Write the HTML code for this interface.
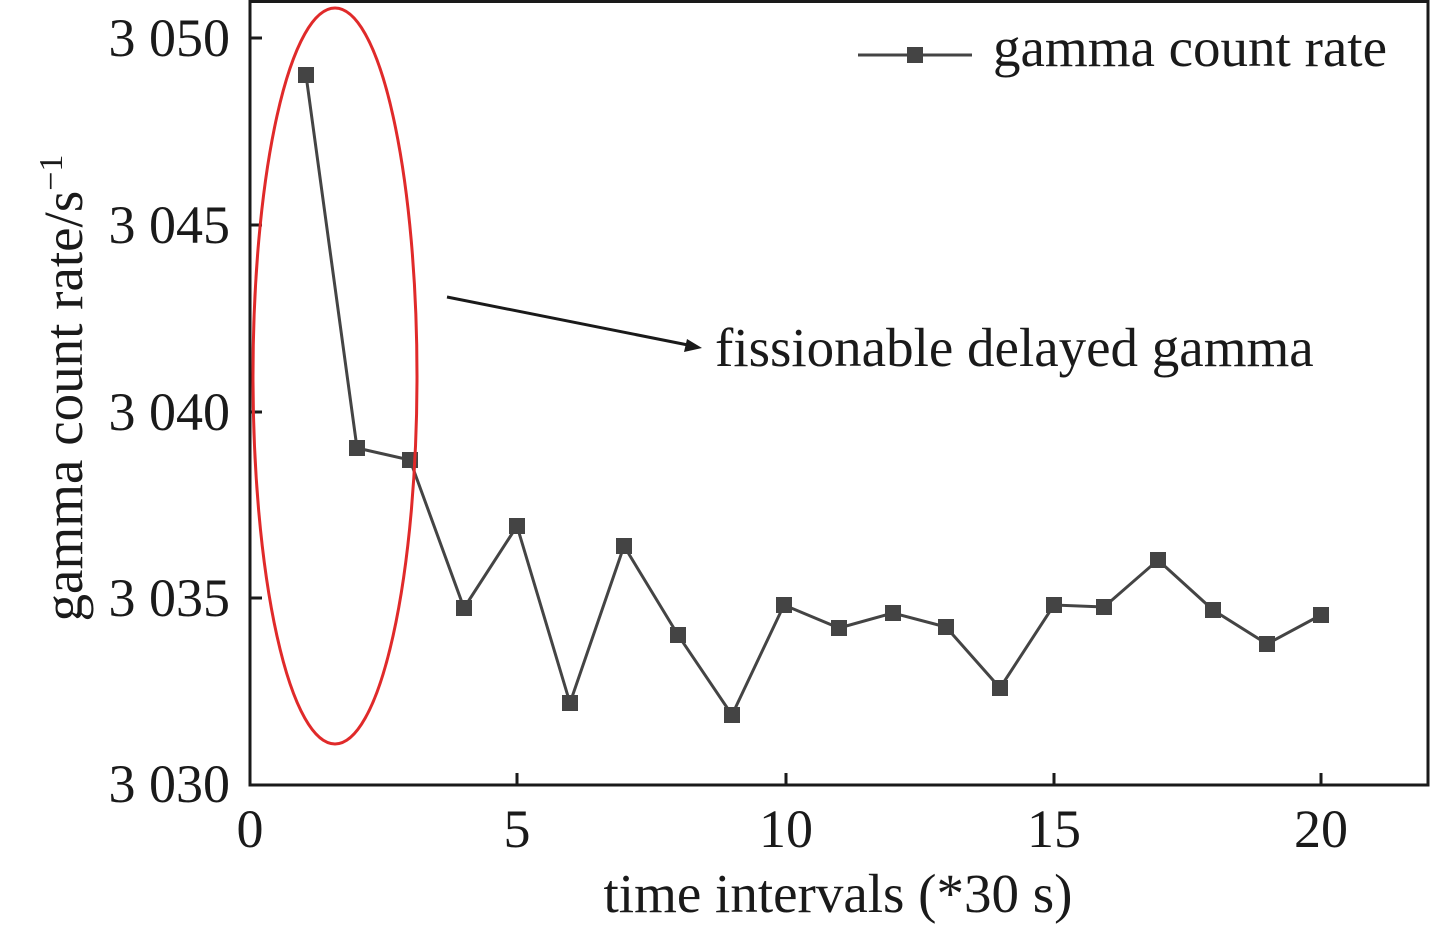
<!DOCTYPE html>
<html><head><meta charset="utf-8"><style>
html,body{margin:0;padding:0;background:#fff;}
svg{display:block;}
text{font-family:"Liberation Serif",serif;fill:#1a1a1a;}
</style></head><body>
<svg width="1437" height="929" viewBox="0 0 1437 929" xmlns="http://www.w3.org/2000/svg">
<rect x="250" y="1.5" width="1178" height="783.5" fill="none" stroke="#1a1a1a" stroke-width="3"/>
<g stroke="#1a1a1a" stroke-width="3">
<line x1="250" y1="38" x2="262" y2="38"/>
<line x1="250" y1="225" x2="262" y2="225"/>
<line x1="250" y1="412" x2="262" y2="412"/>
<line x1="250" y1="598" x2="262" y2="598"/>
<line x1="517" y1="785" x2="517" y2="773"/>
<line x1="786" y1="785" x2="786" y2="773"/>
<line x1="1054" y1="785" x2="1054" y2="773"/>
<line x1="1321" y1="785" x2="1321" y2="773"/>
</g>
<g font-size="54" text-anchor="end">
<text x="230" y="56">3 050</text>
<text x="230" y="243">3 045</text>
<text x="230" y="430">3 040</text>
<text x="230" y="616">3 035</text>
<text x="230" y="802">3 030</text>
</g>
<g font-size="54" text-anchor="middle">
<text x="250" y="847">0</text>
<text x="517" y="847">5</text>
<text x="786" y="847">10</text>
<text x="1054" y="847">15</text>
<text x="1321" y="847">20</text>
</g>
<text x="838" y="912" font-size="55" text-anchor="middle">time intervals (*30 s)</text>
<text transform="translate(82,388) rotate(-90)" font-size="55" text-anchor="middle">gamma count rate/s<tspan dy="-20" font-size="34">−1</tspan></text>
<polyline fill="none" stroke="#444" stroke-width="3" points="306,75 357,448 410,460 464,608 517,526 570,703 624,546 678,635 732,715 784,605 839,628 893,613 946,627 1000,688 1054,605 1104,607 1158,560 1213,610 1267,644 1321,615"/>
<g fill="#444">
<rect x="298" y="67" width="16" height="16"/><rect x="349" y="440" width="16" height="16"/><rect x="402" y="452" width="16" height="16"/><rect x="456" y="600" width="16" height="16"/><rect x="509" y="518" width="16" height="16"/><rect x="562" y="695" width="16" height="16"/><rect x="616" y="538" width="16" height="16"/><rect x="670" y="627" width="16" height="16"/><rect x="724" y="707" width="16" height="16"/><rect x="776" y="597" width="16" height="16"/><rect x="831" y="620" width="16" height="16"/><rect x="885" y="605" width="16" height="16"/><rect x="938" y="619" width="16" height="16"/><rect x="992" y="680" width="16" height="16"/><rect x="1046" y="597" width="16" height="16"/><rect x="1096" y="599" width="16" height="16"/><rect x="1150" y="552" width="16" height="16"/><rect x="1205" y="602" width="16" height="16"/><rect x="1259" y="636" width="16" height="16"/><rect x="1313" y="607" width="16" height="16"/>
</g>
<ellipse cx="335" cy="376" rx="82" ry="368" fill="none" stroke="#e02a2a" stroke-width="3"/>
<line x1="447" y1="297" x2="688" y2="345" stroke="#1a1a1a" stroke-width="3"/>
<polygon points="702,348 684,352 687,339" fill="#1a1a1a"/>
<text x="715" y="366" font-size="55">fissionable delayed gamma</text>
<line x1="858" y1="55" x2="972" y2="55" stroke="#444" stroke-width="3"/>
<rect x="907" y="47" width="16" height="16" fill="#444"/>
<text x="993" y="66" font-size="55">gamma count rate</text>
</svg>
</body></html>
